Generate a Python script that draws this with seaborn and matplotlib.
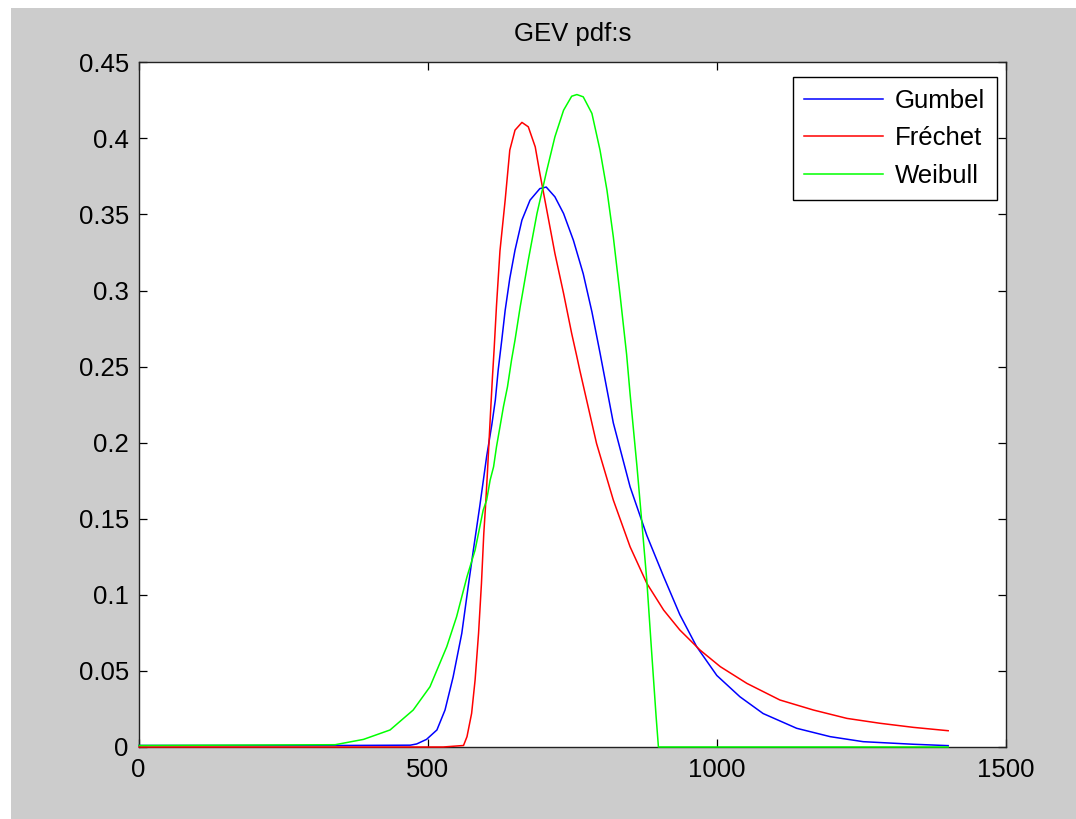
import numpy as np
import pandas as pd
import matplotlib
matplotlib.use("Agg")
import matplotlib.pyplot as plt
from matplotlib.patches import Rectangle
import seaborn as sns

# values (x = sample index, y = pdf value)
gumbel_x = [1, 345, 470, 481, 498, 516, 530, 544, 559, 570, 579, 590, 602, 611,
            617, 622, 628, 634, 642, 651, 663, 677, 694, 705, 720, 735, 752, 769,
            784, 798, 821, 850, 879, 908, 936, 965, 1000, 1040, 1080, 1138, 1196,
            1253, 1340, 1400]
gumbel_y = [0.001, 0.001, 0.0012, 0.002, 0.005, 0.0112, 0.0243, 0.046, 0.0747,
            0.1053, 0.1294, 0.158, 0.191, 0.212, 0.228, 0.248, 0.267, 0.287,
            0.308, 0.3265, 0.3463, 0.3594, 0.367, 0.368, 0.3616, 0.3506, 0.333,
            0.311, 0.286, 0.259, 0.213, 0.171, 0.139, 0.112, 0.087, 0.066, 0.047,
            0.033, 0.022, 0.0123, 0.0068, 0.0035, 0.0018, 0.0009]

frechet_x = [1, 527, 562, 568, 576, 582, 588, 593, 597, 600, 603, 606, 609, 612,
             615, 619, 625, 634, 642, 651, 663, 674, 686, 694, 706, 720, 735, 749,
             758, 763, 792, 821, 850, 879, 908, 936, 971, 1006, 1052, 1109, 1167,
             1225, 1282, 1340, 1400]
frechet_y = [0.0, 0.0, 0.001, 0.0068, 0.0221, 0.044, 0.0747, 0.1075, 0.140,
             0.158, 0.178, 0.200, 0.222, 0.243, 0.262, 0.290, 0.326, 0.3594,
             0.3923, 0.4054, 0.4105, 0.4076, 0.3944, 0.377, 0.3528, 0.3244,
             0.2981, 0.2718, 0.2565, 0.2477, 0.1995, 0.1623, 0.1316, 0.1075,
             0.090, 0.0769, 0.0637, 0.0528, 0.0418, 0.0309, 0.0243, 0.0188,
             0.0156, 0.0129, 0.0107]

weibull_x = [1, 340, 389, 435, 475, 504, 533, 550, 568, 582, 596, 602, 608, 614,
             619, 625, 631, 638, 645, 651, 660, 674, 689, 706, 720, 735, 749, 758,
             769, 784, 798, 810, 821, 833, 844, 850, 862, 870, 879, 887, 895, 899,
             1400]
weibull_y = [0.001, 0.0015, 0.005, 0.0112, 0.0243, 0.0396, 0.0659, 0.0856,
             0.1119, 0.1294, 0.1557, 0.1623, 0.1754, 0.1842, 0.1973, 0.2104,
             0.2236, 0.2367, 0.2543, 0.2674, 0.2893, 0.32, 0.3506, 0.379, 0.401,
             0.4185, 0.4277, 0.4288, 0.4273, 0.4164, 0.3923, 0.366, 0.3353,
             0.296, 0.258, 0.232, 0.184, 0.149, 0.109, 0.064, 0.020, 0.0, 0.0]

names = ["Gumbel", "Fréchet", "Weibull"]
colors = ["#0000ff", "#ff0000", "#00ff00"]

df = pd.concat([
    pd.DataFrame({"x": gumbel_x, "pdf": gumbel_y, "dist": names[0]}),
    pd.DataFrame({"x": frechet_x, "pdf": frechet_y, "dist": names[1]}),
    pd.DataFrame({"x": weibull_x, "pdf": weibull_y, "dist": names[2]}),
])

fs = 18.5
plt.rcParams["font.family"] = ["Liberation Sans", "DejaVu Sans"]
plt.rcParams["font.size"] = fs

fig = plt.figure(figsize=(10.76, 8.19), dpi=100, facecolor="white")
# grey window area (thin white strip at top and left as in the screenshot)
fig.patches.append(Rectangle((11 / 1076, 0), 1 - 11 / 1076, 1 - 8 / 819,
                             transform=fig.transFigure, facecolor="#cccccc",
                             edgecolor="none", zorder=-10))
ax = fig.add_axes([138.5 / 1076, 1 - 747 / 819, 867.5 / 1076, 684.7 / 819])
ax.set_facecolor("white")

sns.lineplot(data=df, x="x", y="pdf", hue="dist", hue_order=names,
             palette=colors, estimator=None, sort=False, linewidth=1.1,
             clip_on=False, zorder=3, ax=ax)

ax.set_xlim(0, 1500)
ax.set_ylim(0, 0.45)
ax.set_xticks([0, 500, 1000, 1500])
ax.set_yticks(np.arange(0, 0.451, 0.05))
ax.set_yticklabels(["0", "0.05", "0.1", "0.15", "0.2", "0.25", "0.3",
                    "0.35", "0.4", "0.45"])
ax.set_xlabel("")
ax.set_ylabel("")
ax.set_title("GEV pdf:s", pad=15, fontsize=fs)

ax.tick_params(direction="in", length=6, width=0.9, top=True, right=True,
               labelsize=fs, colors="black")
ax.tick_params(axis="x", pad=8)
ax.tick_params(axis="y", pad=7)
for s in ax.spines.values():
    s.set_color("#222222")
    s.set_linewidth(1.0)

leg = ax.legend(loc="upper right", bbox_to_anchor=(0.9896, 0.9785),
                borderaxespad=0, frameon=True, fancybox=False, framealpha=1,
                edgecolor="black", handlelength=3.07, handletextpad=0.47,
                labelspacing=0.54, borderpad=0.45, fontsize=fs)
leg.get_frame().set_linewidth(1.0)

fig.savefig("out.png", dpi=100, facecolor=fig.get_facecolor())
